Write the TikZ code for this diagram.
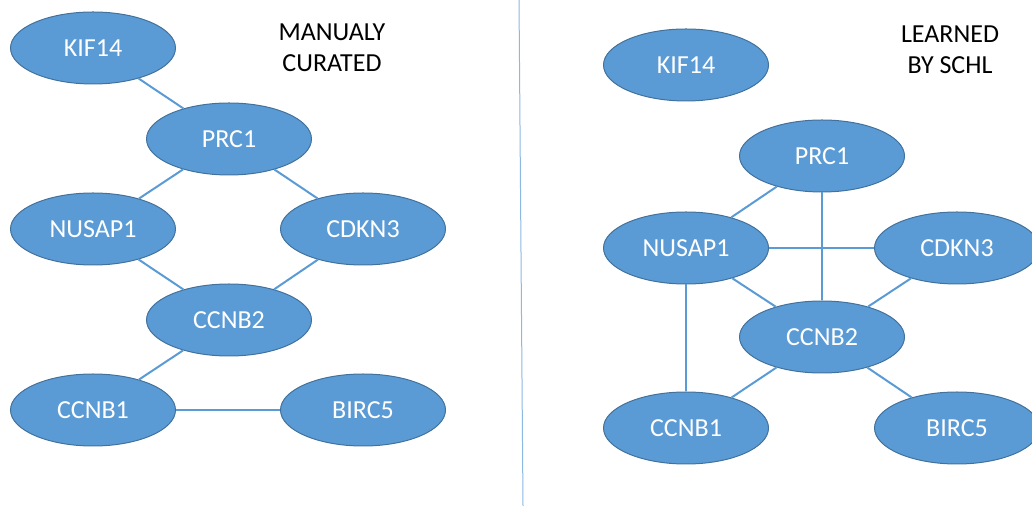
\documentclass[tikz,border=0pt]{standalone}
\usepackage{fontspec}
\setmainfont{Carlito}
\usepackage{tikz}
\usetikzlibrary{shapes.geometric}

\definecolor{genefill}{HTML}{5B9BD5}
\definecolor{genedraw}{HTML}{41719C}
\definecolor{linkblue}{HTML}{5B9BD5}

\begin{document}
\begin{tikzpicture}[x=0.5pt, y=-0.5pt,
  gene/.style={ellipse, fill=genefill, draw=genedraw, line width=0.5pt,
    minimum width=82.5pt, minimum height=36pt, inner sep=0pt,
    text=white, font=\fontsize{13}{15}\selectfont},
  caption/.style={align=center, font=\fontsize{13}{15.5}\selectfont},
  link/.style={draw=linkblue, line width=1pt}]
  \useasboundingbox (0,0) rectangle (1032,506);

  % divider
  \coordinate (divtop) at (519,0);
  \coordinate (divbot) at (523,506);
  \draw [linkblue!70, line width=0.5pt] (divtop) -- (divbot);

  % manually curated
  \node (KIFL) [gene] at (93,48) {KIF14};
  \node (PRCL) [gene] at (229,139) {PRC1};
  \node (NUSL) [gene] at (93,229) {NUSAP1};
  \node (CDKL) [gene] at (363,229) {CDKN3};
  \node (CNBL) [gene] at (229,320) {CCNB2};
  \node (CNAL) [gene] at (93,410) {CCNB1};
  \node (BIRL) [gene] at (363,410) {BIRC5};
  \node (capL) [caption] at (332,48) {MANUALY\\CURATED};

  \path [link]
  (KIFL) edge (PRCL)
  (PRCL) edge (NUSL)
  (PRCL) edge (CDKL)
  (NUSL) edge (CNBL)
  (CDKL) edge (CNBL)
  (CNBL) edge (CNAL)
  (CNAL) edge (BIRL);

  % learned by SCHL
  \node (KIFR) [gene] at (686,65) {KIF14};
  \node (PRCR) [gene] at (822,156) {PRC1};
  \node (NUSR) [gene] at (686,248) {NUSAP1};
  \node (CDKR) [gene] at (957,248) {CDKN3};
  \node (CNBR) [gene] at (822,337) {CCNB2};
  \node (CNAR) [gene] at (686,428) {CCNB1};
  \node (BIRR) [gene] at (957,428) {BIRC5};
  \node (capR) [caption] at (950,50) {LEARNED\\BY SCHL};

  \path [link]
  (PRCR) edge (NUSR)
  (PRCR) edge (CNBR)
  (NUSR) edge (CDKR)
  (NUSR) edge (CNBR)
  (NUSR) edge (CNAR)
  (CDKR) edge (CNBR)
  (CNBR) edge (CNAR)
  (CNBR) edge (BIRR);
\end{tikzpicture}
\end{document}
